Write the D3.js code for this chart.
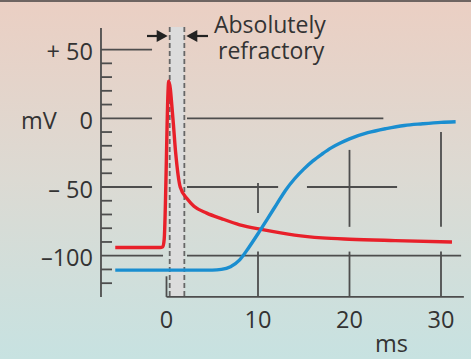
<!DOCTYPE html>
<html><head><meta charset="utf-8">
<script src="https://cdn.jsdelivr.net/npm/d3@7"></script>
<style>html,body{margin:0;padding:0;overflow:hidden;}svg{display:block;}</style>
</head><body>
<script>
// ---- data ----
const yTicks = [50, 0, -50, -100];
const yTickLabels = ["+ 50", "0", "\u2013 50", "\u2013100"];
const xTicks = [0, 10, 20, 30];
const xTickLabels = ["0", "10", "20", "30"];
const minorTicks = [40, 30, 20, 10, -10, -20, -30, -40, -60, -70, -80, -90, -110, -120];
// red: membrane potential (action potential), time in ms, mV
const redT = [-5.6, -0.7, -0.4, -0.25, 0.25, 0.7, 1.0, 1.5, 2.3, 3, 4.4, 6, 8, 10.5, 14, 17, 20, 25, 31.2];
const redV = [-94, -94, -93.5, -88, 27, 0, -25, -50, -59, -64, -69, -73, -77.5, -81, -85, -87, -88, -89, -90];
// blue: second trace
const blueT = [-5.6, 5, 6, 7, 8, 9, 10, 11, 12, 13, 14, 15, 16, 17, 18, 19, 20, 22, 24, 26, 28, 30, 31.6];
const blueV = [-110.5, -110.5, -110, -108, -103, -94, -84, -73.5, -63, -52.5, -44, -37, -31, -26, -21.5, -18, -15, -10.5, -7.5, -5.2, -4, -3, -2.5];
const refractory = [0.35, 1.95];
const labelAbs = ["Absolutely", "refractory"];

const W = 471, H = 359;
const x = d3.scaleLinear().domain([0, 30]).range([166.5, 441]);
const y = d3.scaleLinear().domain([0, -100]).range([118.3, 255.7]);

const svg = d3.select("body").append("svg").attr("width", W).attr("height", H);
const defs = svg.append("defs");
const g = defs.append("linearGradient").attr("id", "bg").attr("x1", 0).attr("y1", 0).attr("x2", 0).attr("y2", 1);
g.append("stop").attr("offset", "0%").attr("stop-color", "#ebcfc3");
g.append("stop").attr("offset", "50%").attr("stop-color", "#dcdad3");
g.append("stop").attr("offset", "100%").attr("stop-color", "#c7e2e1");
svg.append("rect").attr("width", W).attr("height", H).attr("fill", "url(#bg)");
svg.append("rect").attr("width", W).attr("height", 2).attr("fill", "#6e6461");

const ink = "#4d4d4d";
const font = "'Open Sans', sans-serif";

// refractory band
svg.append("rect").attr("x", x(refractory[0])).attr("y", 27)
  .attr("width", x(refractory[1]) - x(refractory[0])).attr("height", y(-130) - 27)
  .attr("fill", "#dcdcdc");

// grid segments [t1, t2, v]
const hSeg = [
  [-7.16, -1.58, 50],
  [-7.16, -1.58, 0], [2.24, 23.7, 0],
  [-7.16, -1.58, -50], [2.24, 12.2, -50], [15.35, 25.2, -50],
  [-7.16, -0.38, -100], [2.24, 32.2, -100]
];
const vSeg = [
  [0, -115, -130],
  [10, -47, -69], [10, -97, -130],
  [20, -23, -79], [20, -97, -130],
  [30, -10, -79], [30, -97, -130]
];
const grid = svg.append("g").attr("stroke", ink).attr("stroke-width", 1.8);
hSeg.forEach(s => grid.append("line").attr("x1", x(s[0])).attr("x2", x(s[1])).attr("y1", y(s[2])).attr("y2", y(s[2])));
vSeg.forEach(s => grid.append("line").attr("x1", x(s[0])).attr("x2", x(s[0])).attr("y1", y(s[1])).attr("y2", y(s[2])));
// axes
grid.append("line").attr("x1", x(-7.16)).attr("x2", x(-7.16)).attr("y1", y(65.7)).attr("y2", y(-130));
grid.append("line").attr("x1", x(0)).attr("x2", x(32.5)).attr("y1", y(-130)).attr("y2", y(-130));
minorTicks.forEach(v => grid.append("line").attr("x1", x(-7.16)).attr("x2", x(-7.16) + 11).attr("y1", y(v)).attr("y2", y(v)));

// dashed refractory borders
refractory.forEach(t => svg.append("line").attr("x1", x(t)).attr("x2", x(t)).attr("y1", 27).attr("y2", y(-130))
  .attr("stroke", "#666").attr("stroke-width", 1.8).attr("stroke-dasharray", "5,3"));

// arrows
function arrow(x0, x1, yy) {
  const dir = Math.sign(x1 - x0);
  svg.append("line").attr("x1", x0).attr("x2", x1 - dir * 8).attr("y1", yy).attr("y2", yy).attr("stroke", "#222").attr("stroke-width", 2.2);
  svg.append("path").attr("d", `M${x1},${yy} L${x1 - dir * 11},${yy - 6} L${x1 - dir * 11},${yy + 6} Z`).attr("fill", "#222");
}
arrow(147, x(refractory[0]) - 2, 36);
arrow(208, x(refractory[1]) + 2, 36);

// curves
const line = d3.line().x(d => x(d[0])).y(d => y(d[1])).curve(d3.curveMonotoneX);
svg.append("path").datum(redT.map((t, i) => [t, redV[i]])).attr("d", line)
  .attr("fill", "none").attr("stroke", "#e8202a").attr("stroke-width", 3.4).attr("stroke-linejoin", "round");
svg.append("path").datum(blueT.map((t, i) => [t, blueV[i]])).attr("d", line)
  .attr("fill", "none").attr("stroke", "#1a8ed0").attr("stroke-width", 3.4);

// labels
const txt = svg.append("g").attr("fill", "#333").attr("font-family", font).attr("font-size", 23.5);
yTicks.forEach((v, i) => txt.append("text").attr("x", 93).attr("y", y(v) + 10.5).attr("text-anchor", "end").text(yTickLabels[i]));
txt.append("text").attr("x", 21).attr("y", y(0) + 10.5).text("mV");
xTicks.forEach((t, i) => txt.append("text").attr("x", x(t)).attr("y", 328).attr("text-anchor", "middle").text(xTickLabels[i]));
txt.append("text").attr("x", 375).attr("y", 352).text("ms");
const ann = txt.append("text").attr("font-size", 23);
ann.append("tspan").attr("x", 214).attr("y", 33).text(labelAbs[0]);
ann.append("tspan").attr("x", 218).attr("y", 59).text(labelAbs[1]);
</script>
</body></html>
